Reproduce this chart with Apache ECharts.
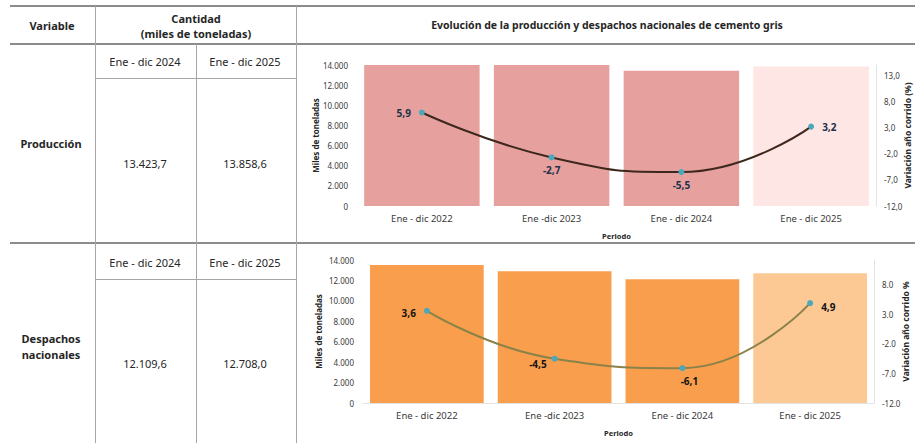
<!DOCTYPE html>
<html>
<head>
<meta charset="utf-8">
<script src="https://cdn.jsdelivr.net/npm/echarts@6/dist/echarts.min.js"></script>
<style>
html,body{margin:0;padding:0;background:#fff;}
#c{width:915px;height:443px;}
</style>
</head>
<body>
<div id="c"></div>
<script>
// ---- data ----
const periods = ['Ene - dic 2022', 'Ene -dic 2023', 'Ene - dic 2024', 'Ene - dic 2025'];
const produccion = [14600, 14200, 13423.7, 13858.6];           // miles de toneladas (first two exceed axis max)
const produccionVar = [5.9, -2.7, -5.5, 3.2];                   // variación año corrido %
const despachos = [13500, 12900, 12109.6, 12708.0];
const despachosVar = [3.6, -4.5, -6.1, 4.9];
const tableHeaders = ['Variable', 'Cantidad', '(miles de toneladas)', 'Evolución de la producción y despachos nacionales de cemento gris'];
const tablePeriods = ['Ene - dic 2024', 'Ene - dic 2025'];
const variables = ['Producción', 'Despachos\nnacionales'];
const tableValues = [['13.423,7', '13.858,6'], ['12.109,6', '12.708,0']];
const leftAxisName = 'Miles de toneladas';
const rightAxisNames = ['Variación año corrido (%)', 'Variación año corrido %'];
const xAxisName = 'Periodo';

// ---- styles ----
const FONT = '"Noto Sans", "Open Sans", sans-serif';
const TXT = '#262626';
const barColors = [['#E6A19F', '#FDE6E3'], ['#F99E4C', '#FCC894']];
const lineColors = ['#3D281D', '#8A8249'];
const labelColors = ['#23304A', '#141414'];
const markerColor = '#4BA7BA';
const labelPos = [
  [{position: 'left', offset: [-3, 0]}, {position: 'bottom', offset: [0, 0]}, {position: 'bottom', offset: [0, 0]}, {position: 'right', offset: [3, 0]}],
  [{position: 'left', offset: [-3, 2]}, {position: 'left', offset: [0, 5]}, {position: 'bottom', offset: [7, 0]}, {position: 'right', offset: [3, 4]}]
];

function thousands(v) {
  return String(Math.round(v)).replace(/\B(?=(\d{3})+(?!\d))/g, '.');
}
function dec(v, sep) {
  return v.toFixed(1).replace('.', sep);
}

const chart = echarts.init(document.getElementById('c'), null, {renderer: 'svg'});

const grids = [
  {left: 357, right: 39, top: 65, height: 141, containLabel: false, outerBoundsMode: 'none'},
  {left: 363, right: 41, top: 260, height: 143, containLabel: false, outerBoundsMode: 'none'}
];
const rightMax = [15, 12.2];
const decSep = [',', '.'];
const barVals = [produccion, despachos];
const lineVals = [produccionVar, despachosVar];

const xAxes = [], yAxes = [], series = [];
grids.forEach((g, i) => {
  xAxes.push({
    type: 'category', gridIndex: i, data: periods,
    axisTick: {show: false},
    axisLine: {show: i === 1, lineStyle: {color: '#e3e3e3'}},
    axisLabel: {color: '#3a3a3a', fontSize: 9.5, fontFamily: FONT, margin: 7},
    name: xAxisName, nameLocation: 'middle', nameGap: 26, nameMoveOverlap: false,
    nameTextStyle: {fontSize: 7.5, fontWeight: 'bold', color: TXT, fontFamily: FONT}
  });
  yAxes.push({
    type: 'value', gridIndex: i, min: 0, max: 14000, interval: 2000,
    splitLine: {show: false}, axisLine: {show: false}, axisTick: {show: false},
    axisLabel: {color: '#3a3a3a', fontSize: 8, fontFamily: FONT, margin: 9, formatter: v => thousands(v)},
    name: leftAxisName, nameLocation: 'middle', nameGap: i === 0 ? 38 : 41, nameRotate: 90, nameMoveOverlap: false,
    nameTextStyle: {fontSize: 8, fontWeight: 'bold', color: TXT, fontFamily: FONT}
  });
  yAxes.push({
    type: 'value', gridIndex: i, position: 'right', min: -12, max: rightMax[i], interval: 5,
    splitLine: {show: false}, axisTick: {show: false},
    axisLine: {show: true, lineStyle: {color: '#e3e3e3'}},
    axisLabel: {color: '#3a3a3a', fontSize: 8, fontFamily: FONT, margin: 8, showMaxLabel: false,
      formatter: v => dec(v, decSep[i])},
    name: rightAxisNames[i], nameLocation: 'middle', nameGap: 27, nameRotate: 90, nameMoveOverlap: false,
    nameTextStyle: {fontSize: 8.5, fontWeight: 'bold', color: TXT, fontFamily: FONT}
  });
  series.push({
    type: 'bar', xAxisIndex: i, yAxisIndex: i * 2, data: barVals[i],
    barCategoryGap: '11%', clip: true,
    itemStyle: {color: p => p.dataIndex === periods.length - 1 ? barColors[i][1] : barColors[i][0]}
  });
  series.push({
    type: 'line', xAxisIndex: i, yAxisIndex: i * 2 + 1, smooth: 0.5,
    data: lineVals[i].map((v, k) => ({
      value: v,
      label: Object.assign({}, labelPos[i][k])
    })),
    symbol: 'circle', symbolSize: 6,
    itemStyle: {color: markerColor},
    lineStyle: {color: lineColors[i], width: 2},
    label: {show: true, fontSize: 10, fontWeight: 'bold', color: labelColors[i], fontFamily: FONT,
      formatter: p => dec(p.value, ',')},
    z: 5
  });
});

// ---- table drawn as graphic elements ----
const lineThick = {stroke: '#8c8c8c', lineWidth: 2};
const lineThin = {stroke: '#a6a6a6', lineWidth: 1};
function hline(y, x1, x2, s) { return {type: 'line', shape: {x1: x1, y1: y, x2: x2, y2: y}, style: s, silent: true}; }
function vline(x, y1, y2, s) { return {type: 'line', shape: {x1: x, y1: y1, x2: x, y2: y2}, style: s, silent: true}; }
function txt(t, x, y, bold, size) {
  return {type: 'text', x: x, y: y, silent: true,
    style: {text: t, fill: TXT, font: (bold ? 'bold ' : '') + (size || 11) + 'px ' + FONT,
      textAlign: 'center', textVerticalAlign: 'middle', lineHeight: 16}};
}
const graphic = [
  hline(6, 10, 915, lineThick), hline(44, 10, 915, lineThick), hline(243, 10, 915, lineThick),
  vline(95.5, 6, 443, lineThin), vline(196.5, 44, 443, lineThin), vline(296.5, 6, 443, lineThin),
  hline(78.5, 95, 296, lineThin), hline(279.5, 95, 296, lineThin),
  txt(tableHeaders[0], 52, 25, true),
  txt(tableHeaders[1], 196, 18, true),
  txt(tableHeaders[2], 196, 33, true),
  txt(tableHeaders[3], 607, 25, true, 10.5),
  txt(tablePeriods[0], 145, 61, false), txt(tablePeriods[1], 245, 61, false),
  txt(tablePeriods[0], 145, 262, false), txt(tablePeriods[1], 245, 262, false),
  txt(variables[0], 51, 143, true),
  txt(variables[1], 51, 346, true),
  txt(tableValues[0][0], 145, 163, false), txt(tableValues[0][1], 245, 163, false),
  txt(tableValues[1][0], 145, 363, false), txt(tableValues[1][1], 245, 363, false)
];

chart.setOption({
  animation: false,
  textStyle: {fontFamily: FONT},
  grid: grids,
  xAxis: xAxes,
  yAxis: yAxes,
  series: series,
  graphic: graphic
});
</script>
</body>
</html>
